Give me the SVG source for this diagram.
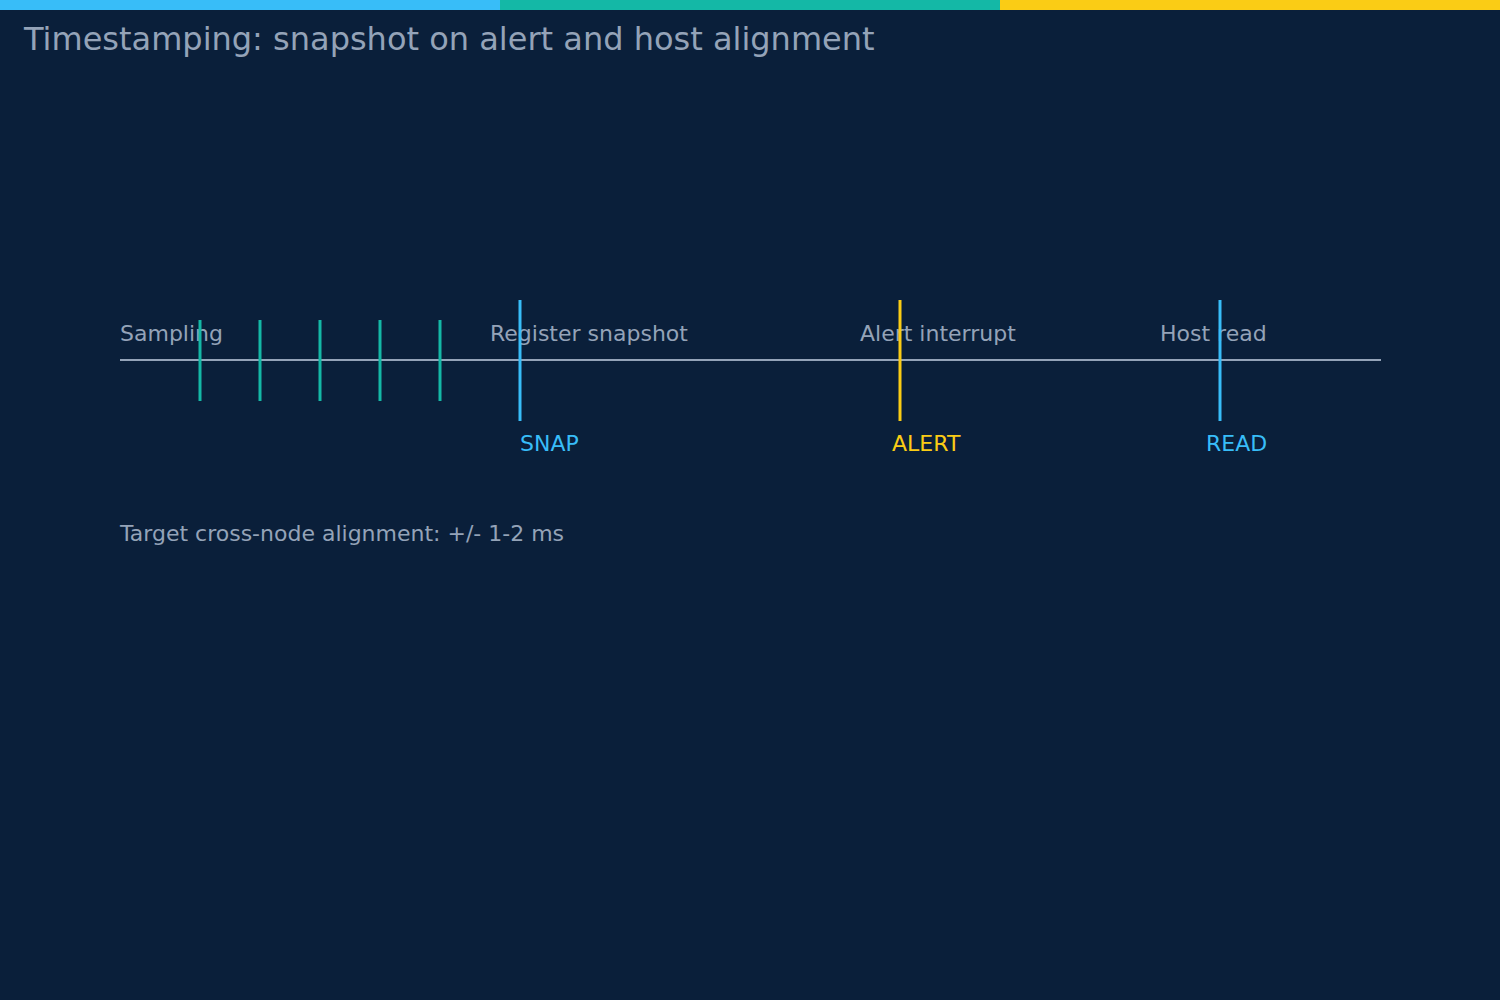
<svg xmlns="http://www.w3.org/2000/svg" width="1500" height="1000" viewBox="0 0 1500 1000">
<style>
text{font-family:"DejaVu Sans","Liberation Sans",sans-serif}
.lbl{font-size:22px;fill:#94a3b8}
.tick{stroke:#14b8a6;stroke-width:3}
</style>
<rect width="1500" height="1000" fill="#0a1f3a"/>
<rect x="0" y="0" width="500" height="10" fill="#38bdf8"/>
<rect x="500" y="0" width="500" height="10" fill="#14b8a6"/>
<rect x="1000" y="0" width="500" height="10" fill="#facc15"/>
<text x="24" y="50" font-size="32" fill="#94a3b8">Timestamping: snapshot on alert and host alignment</text>
<g id="labels">
<text class="lbl" x="120" y="341">Sampling</text>
<text class="lbl" x="490" y="341">Register snapshot</text>
<text class="lbl" x="860" y="341">Alert interrupt</text>
<text class="lbl" x="1160" y="341">Host read</text>
</g>
<g id="connectors">
<line x1="120" y1="360" x2="1381" y2="360" stroke="#94a3b8" stroke-width="2"/>
<line class="tick" x1="200" y1="320" x2="200" y2="401"/>
<line class="tick" x1="260" y1="320" x2="260" y2="401"/>
<line class="tick" x1="320" y1="320" x2="320" y2="401"/>
<line class="tick" x1="380" y1="320" x2="380" y2="401"/>
<line class="tick" x1="440" y1="320" x2="440" y2="401"/>
</g>
<g id="snap">
<line x1="520" y1="300" x2="520" y2="421" stroke="#38bdf8" stroke-width="3"/>
<text x="520" y="451" font-size="22" fill="#38bdf8">SNAP</text>
</g>
<g id="alert">
<line x1="900" y1="300" x2="900" y2="421" stroke="#facc15" stroke-width="3"/>
<text x="892" y="451" font-size="22" fill="#facc15">ALERT</text>
</g>
<g id="read">
<line x1="1220" y1="300" x2="1220" y2="421" stroke="#38bdf8" stroke-width="3"/>
<text x="1206" y="451" font-size="22" fill="#38bdf8">READ</text>
</g>
<text class="lbl" x="120" y="541">Target cross-node alignment: +/- 1-2 ms</text>
</svg>
